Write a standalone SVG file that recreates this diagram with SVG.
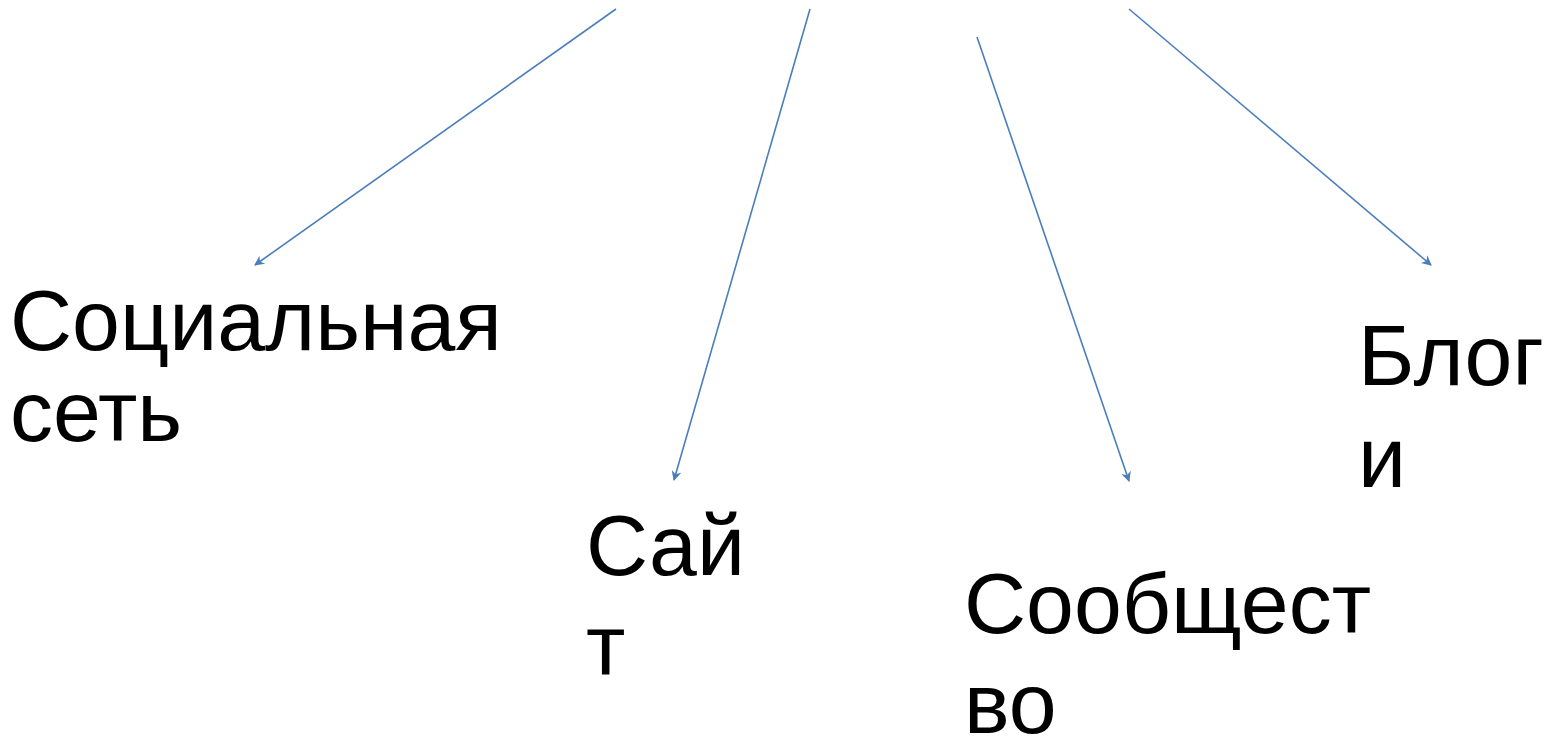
<svg xmlns="http://www.w3.org/2000/svg" width="1552" height="740" viewBox="0 0 1552 740">
<style>
.t{font-family:"Liberation Sans",Arial,sans-serif;font-size:86px;fill:#000}
.c{stroke:#4a7ebb;stroke-width:1.6;fill:none}
</style>
<defs>
<marker id="a" viewBox="0 0 10 10" refX="9" refY="5" markerWidth="12" markerHeight="10" orient="auto" markerUnits="userSpaceOnUse">
<path d="M0,0 L10,5 L0,10 L3,5 Z" fill="#4a7ebb"/>
</marker>
</defs>
<rect width="1552" height="740" fill="#fff"/>
<g id="connectors">
<line class="c" x1="616" y1="9" x2="255" y2="265" marker-end="url(#a)"/>
<line class="c" x1="810" y1="9" x2="674" y2="480" marker-end="url(#a)"/>
<line class="c" x1="977" y1="37" x2="1129" y2="481" marker-end="url(#a)"/>
<line class="c" x1="1129" y1="9" x2="1431" y2="265" marker-end="url(#a)"/>
</g>
<g id="social"><text class="t" x="10" y="350">Социальная</text><text class="t" x="10" y="441">сеть</text></g>
<g id="site"><text class="t" x="586" y="575">Сай</text><text class="t" x="586" y="675">т</text></g>
<g id="community"><text class="t" x="964" y="633">Сообщест</text><text class="t" x="964" y="733">во</text></g>
<g id="blogs"><text class="t" x="1358" y="385">Блог</text><text class="t" x="1358" y="487">и</text></g>
</svg>
